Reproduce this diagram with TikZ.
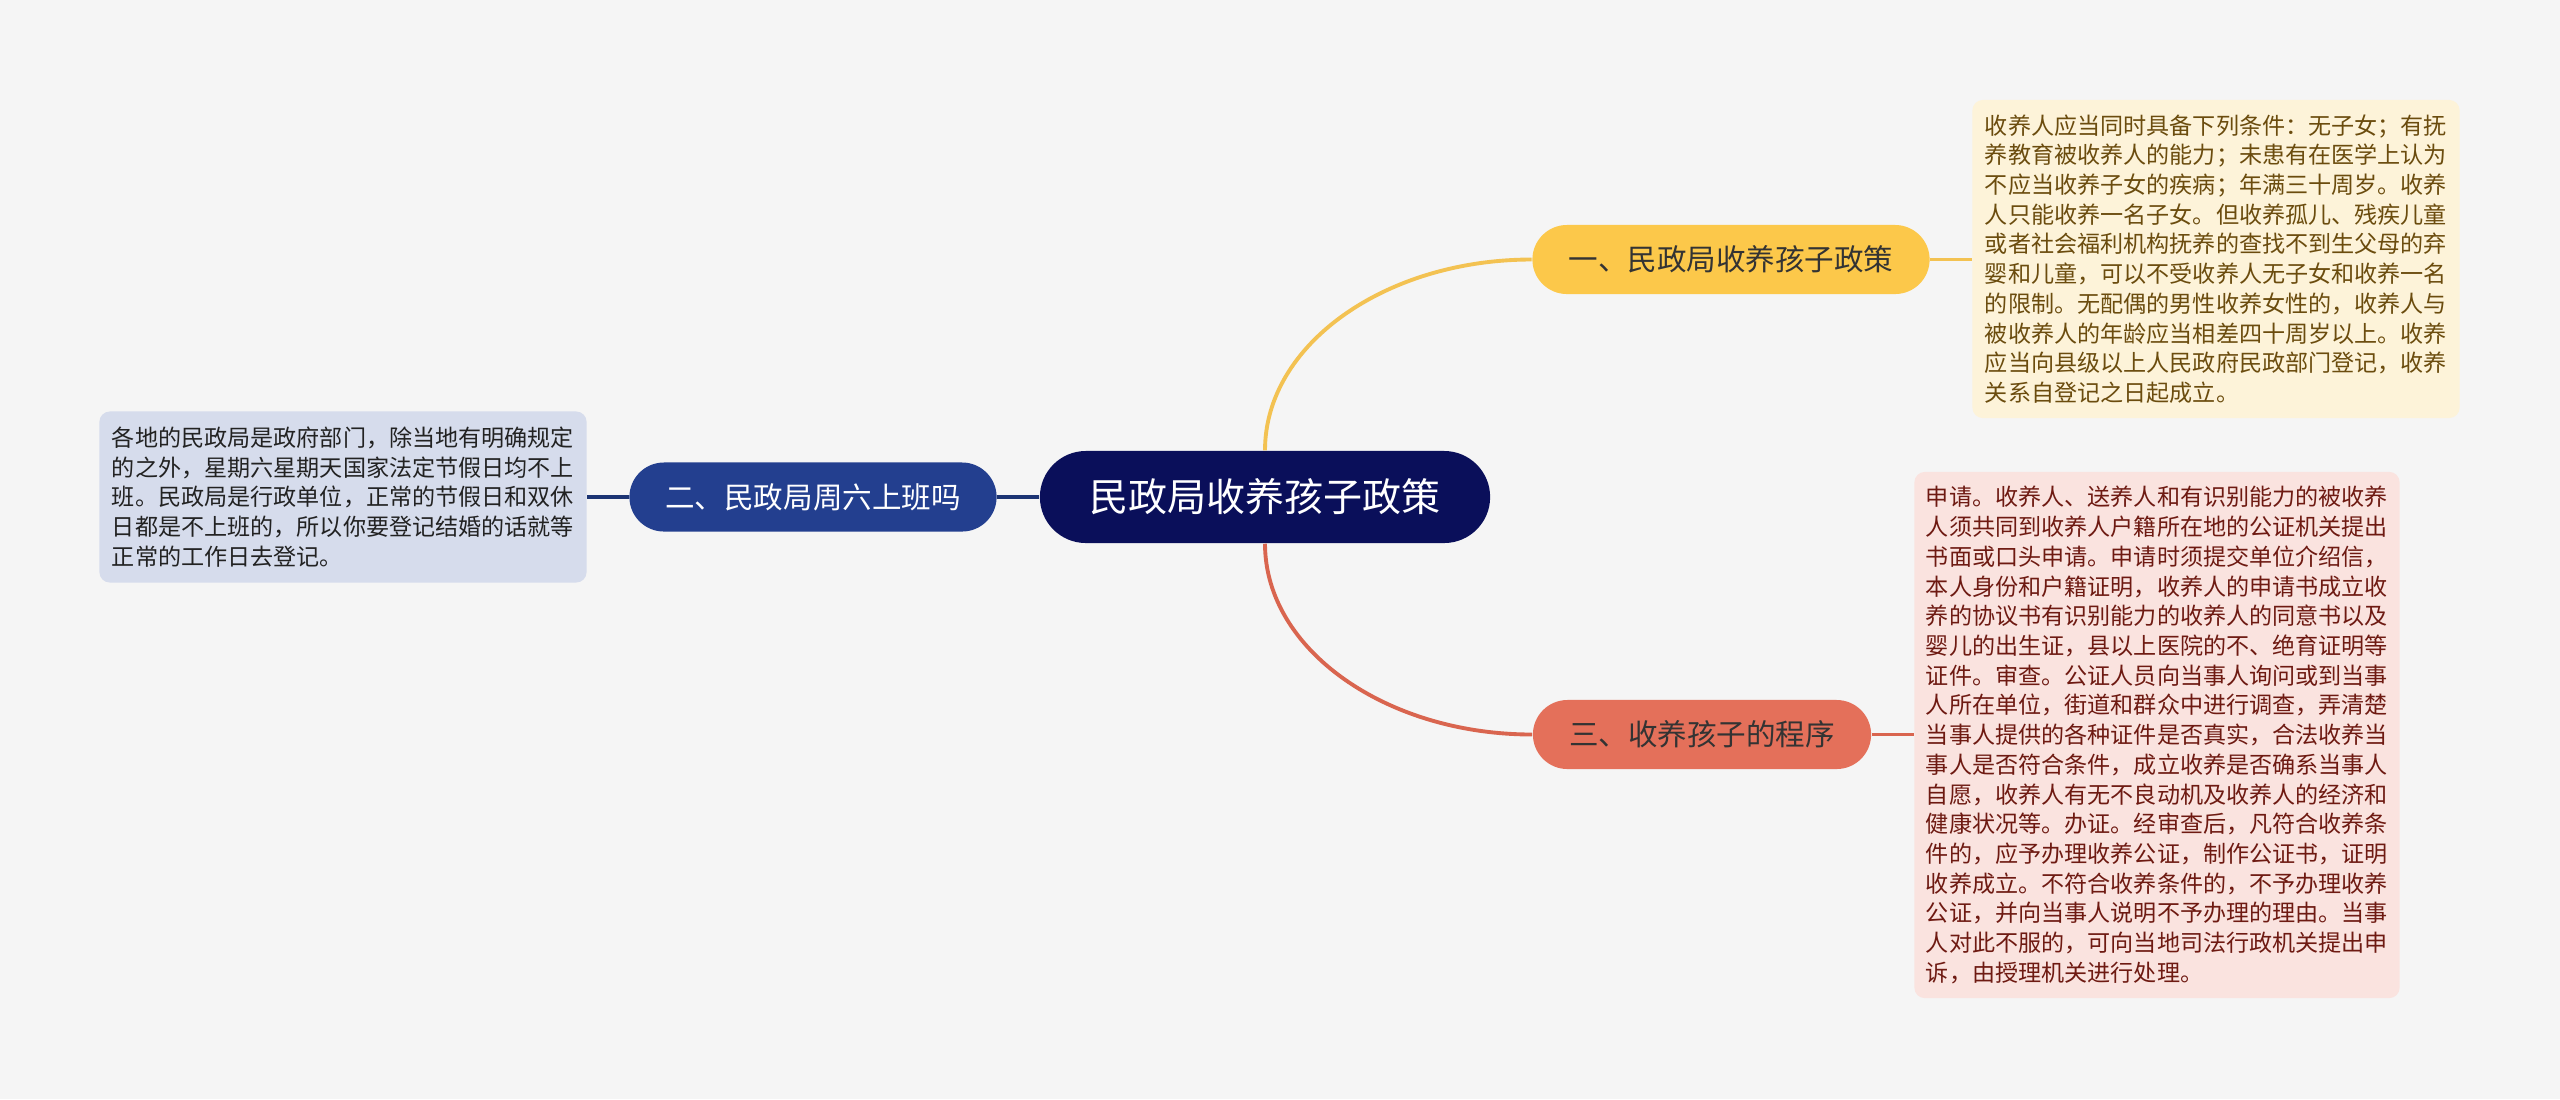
\documentclass[tikz,border=0pt]{standalone}
\usepackage{fontspec}
\setmainfont{Noto Sans CJK SC}
\usepackage{xcolor}
\usetikzlibrary{shapes.misc}

\definecolor{bgcol}{HTML}{F5F5F5}
\definecolor{rootcol}{HTML}{0A0F5A}
\definecolor{yel}{HTML}{FCC84A}
\definecolor{yelline}{HTML}{F3C252}
\definecolor{yelleaf}{HTML}{FDF3D9}
\definecolor{yeltext}{HTML}{6B4C0E}
\definecolor{red}{HTML}{E4705A}
\definecolor{redline}{HTML}{D9654F}
\definecolor{redleaf}{HTML}{FAE3DF}
\definecolor{redtext}{HTML}{6E1A12}
\definecolor{blu}{HTML}{233F8F}
\definecolor{bluline}{HTML}{1C3473}
\definecolor{bluleaf}{HTML}{D6DCEC}
\definecolor{blutext}{HTML}{222222}

\begin{document}
\begin{tikzpicture}[x=0.01cm, y=-0.01cm,
  topic/.style={rounded rectangle, inner sep=0pt, text=white, fill=rootcol,
    minimum width=4.50cm, minimum height=0.92cm, font=\fontsize{11.1}{13}\selectfont},
  sub/.style={rounded rectangle, inner sep=0pt, minimum height=0.69cm,
    font=\fontsize{8.4}{10}\selectfont},
  leaf/.style={rectangle, rounded corners=3pt, inner sep=0pt, align=left,
    minimum width=4.87cm, font=\fontsize{6.57}{8.45}\selectfont},
  link/.style={line width=1.1pt}
]
\fill[bgcol] (0,0) rectangle (2560,1099);
\useasboundingbox (0,0) rectangle (2560,1099);

% main topic
\node[topic] (R) at (1265,497) {民政局收养孩子政策};

% branches
\node[sub, fill=yel, text=black!80, minimum width=3.97cm] (B1) at (1731,259.5) {一、民政局收养孩子政策};
\node[sub, fill=blu, text=white, minimum width=3.67cm] (B2) at (813,497) {二、民政局周六上班吗};
\node[sub, fill=red, text=black!80, minimum width=3.38cm] (B3) at (1702,734.5) {三、收养孩子的程序};

% leaves
\node[leaf, fill=yelleaf, text=yeltext, minimum height=3.18cm] (L1) at (2216,259) {%
收养人应当同时具备下列条件：无子女；有抚\\
养教育被收养人的能力；未患有在医学上认为\\
不应当收养子女的疾病；年满三十周岁。收养\\
人只能收养一名子女。但收养孤儿、残疾儿童\\
或者社会福利机构抚养的查找不到生父母的弃\\
婴和儿童，可以不受收养人无子女和收养一名\\
的限制。无配偶的男性收养女性的，收养人与\\
被收养人的年龄应当相差四十周岁以上。收养\\
应当向县级以上人民政府民政部门登记，收养\\
关系自登记之日起成立。};

\node[leaf, fill=bluleaf, text=blutext, minimum height=1.71cm] (L2) at (343,497) {%
各地的民政局是政府部门，除当地有明确规定\\
的之外，星期六星期天国家法定节假日均不上\\
班。民政局是行政单位，正常的节假日和双休\\
日都是不上班的，所以你要登记结婚的话就等\\
正常的工作日去登记。};

\node[leaf, fill=redleaf, text=redtext, minimum width=4.85cm, minimum height=5.26cm] (L3) at (2157,735) {%
申请。收养人、送养人和有识别能力的被收养\\
人须共同到收养人户籍所在地的公证机关提出\\
书面或口头申请。申请时须提交单位介绍信，\\
本人身份和户籍证明，收养人的申请书成立收\\
养的协议书有识别能力的收养人的同意书以及\\
婴儿的出生证，县以上医院的不、绝育证明等\\
证件。审查。公证人员向当事人询问或到当事\\
人所在单位，街道和群众中进行调查，弄清楚\\
当事人提供的各种证件是否真实，合法收养当\\
事人是否符合条件，成立收养是否确系当事人\\
自愿，收养人有无不良动机及收养人的经济和\\
健康状况等。办证。经审查后，凡符合收养条\\
件的，应予办理收养公证，制作公证书，证明\\
收养成立。不符合收养条件的，不予办理收养\\
公证，并向当事人说明不予办理的理由。当事\\
人对此不服的，可向当地司法行政机关提出申\\
诉，由授理机关进行处理。};

% links
\draw[link, yelline] (R.north) .. controls +(0,-106) and +(-146,0) .. (B1.west);
\draw[link, redline] (R.south) .. controls +(0,106) and +(-146,0) .. (B3.west);
\draw[link, bluline, line width=0.9pt] (R.west) -- (B2.east);
\draw[link, yelline] (B1.east) -- (L1.west |- B1.east);
\draw[link, redline] (B3.east) -- (L3.west |- B3.east);
\draw[link, bluline, line width=0.9pt] (B2.west) -- (L2.east);
\end{tikzpicture}
\end{document}
